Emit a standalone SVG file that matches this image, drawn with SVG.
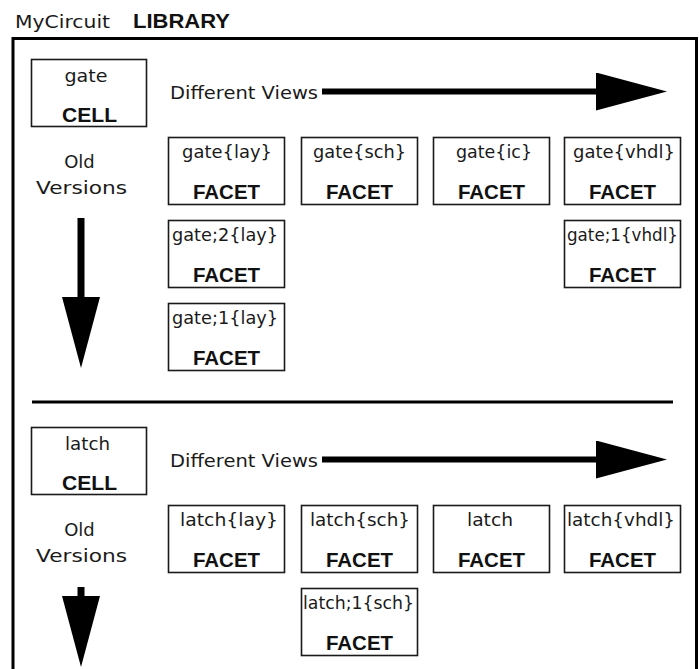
<svg xmlns="http://www.w3.org/2000/svg" width="699" height="669" viewBox="0 0 699 669">
<style>
.bg{fill:#fff}
.box{fill:#fff;stroke:#1a1a1a;stroke-width:1.6}
.t{font-family:"DejaVu Sans","Liberation Sans",sans-serif;font-size:18px;fill:#1a1a1a}
.b{font-family:"Liberation Sans",Arial,sans-serif;font-size:20px;font-weight:bold;fill:#111}
.c{font-family:"Liberation Sans",Arial,sans-serif;font-size:21px;font-weight:bold;fill:#111}
.frame{fill:none;stroke:#000;stroke-width:3}
.arr{stroke:#000;fill:none}
</style>
<defs>
<marker id="head" viewBox="0 0 71 38" refX="0" refY="19" markerWidth="71" markerHeight="38" markerUnits="userSpaceOnUse" orient="auto">
<path d="M0,0 L71,19 L0,38 Z" fill="#000"/>
</marker>
</defs>
<rect class="bg" x="0" y="0" width="699" height="669"/>

<g id="title">
<text class="t" x="15" y="28" textLength="95" lengthAdjust="spacingAndGlyphs">MyCircuit</text>
<text class="b" x="133" y="28" font-size="19" textLength="97" lengthAdjust="spacingAndGlyphs">LIBRARY</text>
</g>
<path class="frame" d="M13,669 V38.5 H696.5 V669"/>
<line x1="32" y1="402" x2="673" y2="402" stroke="#000" stroke-width="3"/>

<!-- gate section -->
<g id="gate-cell">
<rect class="box" x="31.5" y="59.5" width="115" height="67"/>
<text class="t" x="86" y="82" text-anchor="middle" textLength="43" lengthAdjust="spacingAndGlyphs">gate</text>
<text class="c" x="89.5" y="122" text-anchor="middle" textLength="55" lengthAdjust="spacingAndGlyphs">CELL</text>
</g>
<g id="gate-labels">
<text class="t" x="170" y="99" textLength="148" lengthAdjust="spacingAndGlyphs">Different Views</text>
<text class="t" x="79.5" y="168" text-anchor="middle">Old</text>
<text class="t" x="81.5" y="194" text-anchor="middle" textLength="91" lengthAdjust="spacingAndGlyphs">Versions</text>
</g>
<g id="gate-lay">
<rect class="box" x="168.5" y="137.5" width="116" height="67"/>
<text class="t" x="227" y="158" text-anchor="middle" textLength="90" lengthAdjust="spacingAndGlyphs">gate{lay}</text>
<text class="b" x="226.5" y="199" text-anchor="middle" textLength="67" lengthAdjust="spacingAndGlyphs">FACET</text>
</g>
<g id="gate-sch">
<rect class="box" x="301.5" y="137.5" width="116" height="67"/>
<text class="t" x="359.5" y="158" text-anchor="middle" textLength="93" lengthAdjust="spacingAndGlyphs">gate{sch}</text>
<text class="b" x="359.5" y="199" text-anchor="middle" textLength="67" lengthAdjust="spacingAndGlyphs">FACET</text>
</g>
<g id="gate-ic">
<rect class="box" x="433.5" y="137.5" width="116" height="67"/>
<text class="t" x="494" y="158" text-anchor="middle" textLength="76" lengthAdjust="spacingAndGlyphs">gate{ic}</text>
<text class="b" x="491.5" y="199" text-anchor="middle" textLength="67" lengthAdjust="spacingAndGlyphs">FACET</text>
</g>
<g id="gate-vhdl">
<rect class="box" x="564.5" y="137.5" width="116" height="67"/>
<text class="t" x="624" y="158" text-anchor="middle" textLength="102" lengthAdjust="spacingAndGlyphs">gate{vhdl}</text>
<text class="b" x="622.5" y="199" text-anchor="middle" textLength="67" lengthAdjust="spacingAndGlyphs">FACET</text>
</g>
<g id="gate-2-lay">
<rect class="box" x="168.5" y="220.5" width="116" height="67"/>
<text class="t" x="225" y="241" text-anchor="middle" textLength="106" lengthAdjust="spacingAndGlyphs">gate;2{lay}</text>
<text class="b" x="226.5" y="282" text-anchor="middle" textLength="67" lengthAdjust="spacingAndGlyphs">FACET</text>
</g>
<g id="gate-1-vhdl">
<rect class="box" x="564.5" y="220.5" width="116" height="67"/>
<text class="t" x="622.5" y="241" text-anchor="middle" textLength="111" lengthAdjust="spacingAndGlyphs">gate;1{vhdl}</text>
<text class="b" x="622.5" y="282" text-anchor="middle" textLength="67" lengthAdjust="spacingAndGlyphs">FACET</text>
</g>
<g id="gate-1-lay">
<rect class="box" x="168.5" y="303.5" width="116" height="67"/>
<text class="t" x="225" y="324" text-anchor="middle" textLength="106" lengthAdjust="spacingAndGlyphs">gate;1{lay}</text>
<text class="b" x="226.5" y="365" text-anchor="middle" textLength="67" lengthAdjust="spacingAndGlyphs">FACET</text>
</g>

<!-- latch section -->
<g id="latch-cell">
<rect class="box" x="31.5" y="427.5" width="115" height="67"/>
<text class="t" x="87.5" y="450" text-anchor="middle" textLength="45" lengthAdjust="spacingAndGlyphs">latch</text>
<text class="c" x="89.5" y="490" text-anchor="middle" textLength="55" lengthAdjust="spacingAndGlyphs">CELL</text>
</g>
<g id="latch-labels">
<text class="t" x="170" y="467" textLength="148" lengthAdjust="spacingAndGlyphs">Different Views</text>
<text class="t" x="79.5" y="536" text-anchor="middle">Old</text>
<text class="t" x="81.5" y="562" text-anchor="middle" textLength="91" lengthAdjust="spacingAndGlyphs">Versions</text>
</g>
<g id="latch-lay">
<rect class="box" x="168.5" y="505.5" width="116" height="67"/>
<text class="t" x="229" y="526" text-anchor="middle" textLength="98" lengthAdjust="spacingAndGlyphs">latch{lay}</text>
<text class="b" x="226.5" y="567" text-anchor="middle" textLength="67" lengthAdjust="spacingAndGlyphs">FACET</text>
</g>
<g id="latch-sch">
<rect class="box" x="301.5" y="505.5" width="116" height="67"/>
<text class="t" x="360" y="526" text-anchor="middle" textLength="100" lengthAdjust="spacingAndGlyphs">latch{sch}</text>
<text class="b" x="359.5" y="567" text-anchor="middle" textLength="67" lengthAdjust="spacingAndGlyphs">FACET</text>
</g>
<g id="latch-facet">
<rect class="box" x="433.5" y="505.5" width="116" height="67"/>
<text class="t" x="490" y="526" text-anchor="middle" textLength="46" lengthAdjust="spacingAndGlyphs">latch</text>
<text class="b" x="491.5" y="567" text-anchor="middle" textLength="67" lengthAdjust="spacingAndGlyphs">FACET</text>
</g>
<g id="latch-vhdl">
<rect class="box" x="564.5" y="505.5" width="116" height="67"/>
<text class="t" x="621" y="526" text-anchor="middle" textLength="108" lengthAdjust="spacingAndGlyphs">latch{vhdl}</text>
<text class="b" x="622.5" y="567" text-anchor="middle" textLength="67" lengthAdjust="spacingAndGlyphs">FACET</text>
</g>
<g id="latch-1-sch">
<rect class="box" x="301.5" y="588.5" width="116" height="67"/>
<text class="t" x="358.5" y="609" text-anchor="middle" textLength="111" lengthAdjust="spacingAndGlyphs">latch;1{sch}</text>
<text class="b" x="359.5" y="650" text-anchor="middle" textLength="67" lengthAdjust="spacingAndGlyphs">FACET</text>
</g>

<g id="connectors">
<line class="arr" x1="322" y1="91.5" x2="596" y2="91.5" stroke-width="6" marker-end="url(#head)"/>
<line class="arr" x1="81" y1="218" x2="81" y2="297" stroke-width="7" marker-end="url(#head)"/>
<line class="arr" x1="322" y1="459.5" x2="596" y2="459.5" stroke-width="6" marker-end="url(#head)"/>
<line class="arr" x1="81" y1="587" x2="81" y2="596" stroke-width="7" marker-end="url(#head)"/>
</g>
</svg>
